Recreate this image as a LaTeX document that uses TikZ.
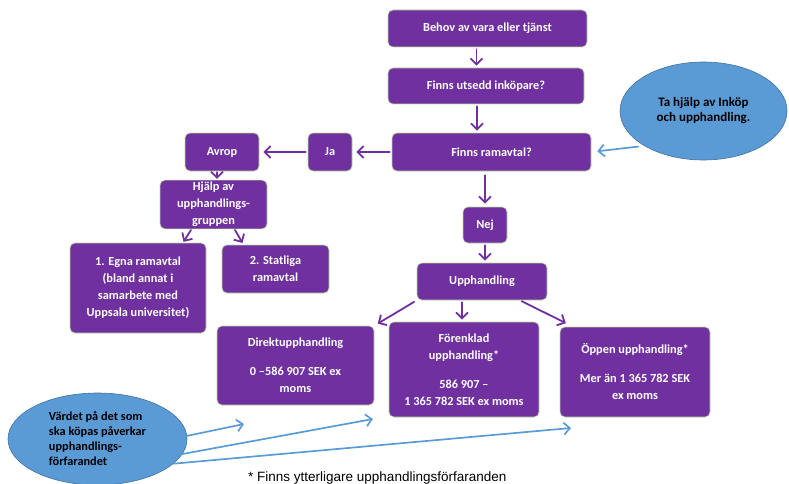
\documentclass[tikz,border=0pt]{standalone}
\usepackage{fontspec}
\setmainfont{Carlito}
\newfontfamily\notefont{Liberation Sans}
\usetikzlibrary{arrows.meta,shapes.geometric}

\definecolor{lila}{HTML}{7030A0}
\definecolor{ljusbla}{HTML}{5B9BD5}
\definecolor{morkbla}{HTML}{41719C}
\definecolor{kant}{HTML}{B5D99C}

\begin{document}
\begin{tikzpicture}[x=1pt, y=-1pt, line cap=round, line join=round,
    box/.style={rectangle, rounded corners=5pt, fill=lila, draw=kant, line width=0.6pt,
      text=white, font=\bfseries\fontsize{12.3}{17}\selectfont, align=center, inner sep=2pt},
    bubble/.style={ellipse, fill=ljusbla, draw=morkbla, line width=0.6pt, text=black,
      font=\bfseries\fontsize{12.3}{15}\selectfont, inner sep=0pt},
    parrow/.style={-{Straight Barb[length=6pt,width=12pt]}, draw=lila, line width=1.8pt,
      shorten >=2pt, shorten <=2pt},
    barrow/.style={-{Straight Barb[length=6pt,width=12pt]}, draw=ljusbla, line width=1.7pt}]

    % page (pixel units, y downwards)
    \useasboundingbox (0,0) rectangle (789,484);

    % main column
    \node[box, minimum width=199pt, minimum height=37pt] (behov) at (487.5,28.5) {Behov av vara eller tjänst};
    \node[box, minimum width=196pt, minimum height=36pt] (utsedd) at (486,86) {Finns utsedd inköpare?};
    \node[box, minimum width=199pt, minimum height=38pt] (ramavtal) at (491.5,152) {Finns ramavtal?};
    \node[box, minimum width=44pt, minimum height=36pt] (nej) at (485,225) {Nej};
    \node[box, minimum width=130pt, minimum height=37pt] (upph) at (482,281.5) {Upphandling};

    % yes branch
    \node[box, minimum width=44pt, minimum height=38pt] (ja) at (330,152) {Ja};
    \node[box, minimum width=74pt, minimum height=38pt] (avrop) at (222,152) {Avrop};
    \node[box, minimum width=107pt, minimum height=47pt] (hjalp) at (213.5,204.5) {Hjälp av\\upphandlings-\\gruppen};
    \node[box, minimum width=136pt, minimum height=90pt] (egna) at (138,288)
      {1. Egna ramavtal\\(bland annat i\\samarbete med\\Uppsala universitet)};
    \node[box, minimum width=107pt, minimum height=48pt] (statliga) at (275.5,269) {2. Statliga\\ramavtal};

    % procurement types
    \node[box, minimum width=157pt, minimum height=79pt] (direkt) at (295.5,365.5)
      {Direktupphandling\\[12pt]0 –586 907 SEK ex\\moms};
    \node[box, minimum width=150pt, minimum height=95pt] (forenklad) at (464,369.5)
      {Förenklad\\upphandling*\\[12pt]586 907 –\\1 365 782 SEK ex moms};
    \node[box, minimum width=150pt, minimum height=90pt] (oppen) at (635,372)
      {Öppen upphandling*\\[12pt]Mer än 1 365 782 SEK\\ex moms};

    % blue notes
    \node[bubble, minimum width=167pt, minimum height=98pt, align=center,
      font=\bfseries\fontsize{13}{15}\selectfont] (info) at (703.5,111)
      {Ta hjälp av Inköp\\och upphandling.};
    \node[bubble, minimum width=179pt, minimum height=92pt, align=left] (varde) at (97.5,439)
      {Värdet på det som\\ska köpas påverkar\\upphandlings-\\förfarandet};
    \node[anchor=base west, inner sep=0pt, font=\notefont\fontsize{13.5}{15}\selectfont] (fotnot) at (248,481)
      {* Finns ytterligare upphandlingsförfaranden};

    % free ends of the blue arrows
    \coordinate (spetsA) at (244,424);
    \coordinate (spetsB) at (373,419);
    \coordinate (spetsC) at (571,428);

    % purple flow
    \draw[parrow] ([xshift=-11pt]behov.south) -- ([xshift=-11pt]behov.south |- utsedd.north);
    \draw[parrow] ([xshift=-9pt]utsedd.south) -- ([xshift=-9pt]utsedd.south |- ramavtal.north);
    \draw[parrow, shorten >=4pt] (ramavtal.west) -- (ja.east);
    \draw[parrow, shorten >=4pt] (ja.west) -- (avrop.east);
    \draw[parrow, shorten <=1pt, shorten >=1pt] ([xshift=-5pt]avrop.south) -- ([xshift=-5pt]avrop.south |- hjalp.north);
    \draw[parrow, shorten <=4pt, shorten >=3pt] (nej.north |- ramavtal.south) -- (nej.north);
    \draw[parrow] (nej.south) -- (nej.south |- upph.north);
    \draw[parrow, shorten <=1pt, shorten >=1pt] ([xshift=-22pt]hjalp.south) -- ([xshift=45pt]egna.north);
    \draw[parrow, shorten <=1pt, shorten >=2pt] ([xshift=21pt]hjalp.south) -- ([xshift=-32pt]statliga.north);
    \draw[parrow, shorten <=3pt, shorten >=4pt] (upph.south west) -- (direkt.north east);
    \draw[parrow] ([xshift=-2pt]forenklad.north |- upph.south) -- ([xshift=-2pt]forenklad.north);
    \draw[parrow, shorten >=8pt] ([xshift=38pt]upph.south) -- ([xshift=-62pt]oppen.north);

    % blue hints
    \draw[barrow, shorten <=6pt, shorten >=6pt] (info.south west) -- (ramavtal.east);
    \draw[barrow] (varde.2) -- (spetsA);
    \draw[barrow] (varde.-10) -- (spetsB);
    \draw[barrow] (varde.-18) -- (spetsC);

\end{tikzpicture}
\end{document}
